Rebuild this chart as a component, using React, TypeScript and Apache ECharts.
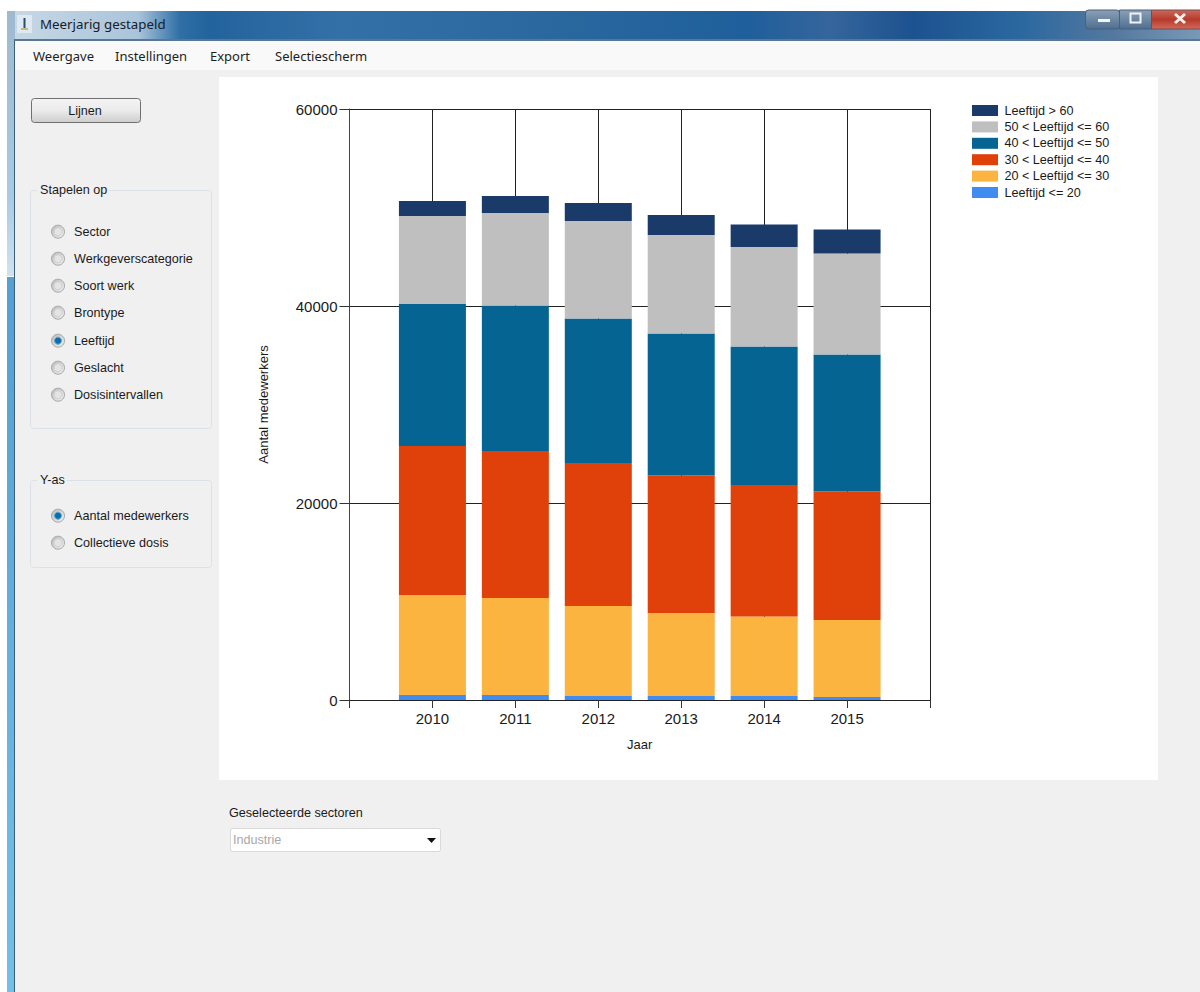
import React, { useEffect, useRef } from "react";
import * as echarts from "echarts";

const years = ["", "2010", "2011", "2012", "2013", "2014", "2015", ""];
const ageTo20 = [null, 500, 500, 400, 400, 400, 300, null];
const age20to30 = [null, 10160, 9850, 9140, 8430, 8080, 7820, null];
const age30to40 = [null, 15130, 14930, 14520, 13960, 13350, 13050, null];
const age40to50 = [null, 14410, 14770, 14670, 14420, 14060, 13910, null];
const age50to60 = [null, 8940, 9390, 9900, 10000, 10100, 10250, null];
const ageOver60 = [null, 1520, 1730, 1830, 2030, 2280, 2440, null];

const seriesNames = [
  "Leeftijd <= 20",
  "20 < Leeftijd <= 30",
  "30 < Leeftijd <= 40",
  "40 < Leeftijd <= 50",
  "50 < Leeftijd <= 60",
  "Leeftijd > 60",
];
const seriesColors = ["#418CF0", "#FCB441", "#E0400A", "#056492", "#BFBFBF", "#1A3B69"];
const seriesValues = [ageTo20, age20to30, age30to40, age40to50, age50to60, ageOver60];

const menuItems: [string, number][] = [["Weergave", 33], ["Instellingen", 115], ["Export", 210], ["Selectiescherm", 275]];
const stackOptions: [string, number, boolean][] = [
  ["Sector", 231.7, false],
  ["Werkgeverscategorie", 258.7, false],
  ["Soort werk", 285.7, false],
  ["Brontype", 312.7, false],
  ["Leeftijd", 340.7, true],
  ["Geslacht", 367.7, false],
  ["Dosisintervallen", 394.7, false],
];
const yOptions: [string, number, boolean][] = [
  ["Aantal medewerkers", 515.7, true],
  ["Collectieve dosis", 542.7, false],
];

const UI_FONT = '12.6px "Liberation Sans", Arial, sans-serif';
const MENU_FONT = '13px "Noto Sans", sans-serif';

const grad = (x2: number, y2: number, stops: [number, string][]) =>
  new echarts.graphic.LinearGradient(0, 0, x2, y2, stops.map(([offset, color]) => ({ offset, color })));

const rect = (x: number, y: number, w: number, h: number, fill: any, extra: any = {}, r = 0) => ({
  type: "rect",
  silent: true,
  z: -10,
  shape: { x, y, width: w, height: h, r },
  style: { fill, ...extra },
});
const label = (text: string, x: number, y: number, font = UI_FONT, fill = "#1a1a1a", textAlign = "left") => ({
  type: "text",
  silent: true,
  z: -5,
  x,
  y,
  style: { text, font, fill, textAlign, textVerticalAlign: "middle", verticalAlign: "middle" },
});
const line = (x1: number, y1: number, x2: number, y2: number, stroke: string, lineWidth = 1) => ({
  type: "line",
  silent: true,
  z: -5,
  shape: { x1, y1, x2, y2 },
  style: { stroke, lineWidth },
});
const radio = (text: string, y: number, on: boolean) => [
  {
    type: "circle",
    silent: true,
    z: -6,
    shape: { cx: 58, cy: y, r: 6.5 },
    style: {
      fill: grad(1, 1, [[0, "#b8b8b8"], [1, "#f4f4f4"]]),
      stroke: "#a6a6a6",
      lineWidth: 1,
    },
  },
  {
    type: "circle",
    silent: true,
    z: -5,
    shape: { cx: 58, cy: y, r: on ? 3.5 : 4 },
    style: { fill: on ? "#0b6ea8" : "#e4e4e4", stroke: on ? "#4fa8d8" : "#d0d0d0", lineWidth: 1 },
  },
  label(text, 74, y),
];
const groupBox = (x: number, y: number, w: number, h: number, title: string, tw: number) => [
  rect(x + 0.5, y + 0.5, w, h, "rgba(0,0,0,0)", { stroke: "#dce1e7", lineWidth: 1 }, 3),
  { ...rect(x + 7, y - 3, tw, 7, "#F0F0F0"), z: -9 },
  label(title, x + 10, y),
];

const chrome: any[] = [
  rect(15, 41, 1185, 951, "#F0F0F0"),
  rect(7, 11, 1193, 29, grad(1, 0, [
    [0, "#c9d9e6"],
    [0.11, "#a9c4da"],
    [0.145, "#2f6fa6"],
    [0.17, "#23639d"],
    [0.28, "#3470a8"],
    [0.45, "#2a689f"],
    [0.62, "#1f5f9b"],
    [0.69, "#35659b"],
    [0.76, "#1c5290"],
    [0.85, "#2b68a0"],
    [0.93, "#55799f"],
    [1, "#7a99b8"],
  ])),
  rect(7, 11, 8, 265, grad(0, 1, [[0, "#9fb9cf"], [0.7, "#a7cbe6"], [1, "#cfe2f0"]])),
  rect(7, 277, 8, 715, grad(0, 1, [[0, "#549fd4"], [1, "#74bfe9"]])),
  rect(14, 40, 1, 952, "#3c5f78"),
  rect(14, 39, 1186, 2, "#5a7690"),
  rect(15, 41, 1185, 29, "#F9F9F9"),
  rect(219, 77, 939, 703, "#FFFFFF"),

  rect(17, 15, 15, 18, "#dfe9f2"),
  line(24.5, 18, 24.5, 28, "#28506f", 2),
  line(21, 29, 28, 29, "#c8b87a", 2),
  label("Meerjarig gestapeld", 40, 24, '13.3px "Noto Sans", sans-serif', "#15202b"),

  rect(1085.5, 10, 34, 19, grad(0, 1, [[0, "#8aa0b6"], [1, "#4f6f90"]]), { stroke: "#49617a" }, 3),
  rect(1119.5, 10, 32, 19, grad(0, 1, [[0, "#8aa0b6"], [1, "#4f6f90"]]), { stroke: "#49617a" }),
  rect(1151.5, 10, 49, 19, grad(0, 1, [[0, "#c86a5e"], [0.5, "#b83a2b"], [1, "#cf6a5c"]]), { stroke: "#7a4a4a" }),
  rect(1098, 19, 12, 3, "#f4f6f8"),
  rect(1130.5, 13.5, 10, 9, "none", { stroke: "#f0f3f6", lineWidth: 2 }),
  line(1175, 14, 1185, 23, "#f6f1ef", 3),
  line(1185, 14, 1175, 23, "#f6f1ef", 3),

  ...menuItems.map(([t, x]) => label(t, x, 56, MENU_FONT, "#1e1e1e")),

  rect(31.5, 98.5, 109, 24, grad(0, 1, [[0, "#f4f4f4"], [0.5, "#ebebeb"], [1, "#cdcdcd"]]), { stroke: "#707070" }, 3),
  label("Lijnen", 85, 111, UI_FONT, "#1a1a1a", "center"),

  ...groupBox(30, 190, 181, 238, "Stapelen op", 72),
  ...stackOptions.flatMap(([t, y, on]) => radio(t, y, on)),
  ...groupBox(30, 480, 181, 87, "Y-as", 30),
  ...yOptions.flatMap(([t, y, on]) => radio(t, y, on)),

  label("Geselecteerde sectoren", 229, 813),
  rect(230.5, 828.5, 210, 23, "#FFFFFF", { stroke: "#d9d9d9" }, 2),
  label("Industrie", 233, 840, UI_FONT, "#a8a8a8"),
  {
    type: "polygon",
    silent: true,
    z: -5,
    shape: { points: [[427, 838], [436, 838], [431.5, 843]] },
    style: { fill: "#111" },
  },
];

export default function App() {
  const ref = useRef<HTMLDivElement>(null);
  useEffect(() => {
    document.body.style.margin = "0";
    const chart = echarts.init(ref.current!, undefined, { renderer: "svg" });
    chart.setOption({
      animation: false,
      backgroundColor: "#FFFFFF",
      textStyle: { fontFamily: '"Liberation Sans", Arial, sans-serif' },
      graphic: chrome,
      grid: { left: 349.5, top: 109, width: 580.5, height: 591, containLabel: false },
      legend: {
        orient: "vertical",
        left: 967,
        top: 99,
        itemWidth: 26,
        itemHeight: 11,
        itemGap: 3.4,
        icon: "rect",
        selectedMode: false,
        data: [...seriesNames].reverse(),
        textStyle: { fontSize: 12.6, lineHeight: 12, color: "#1a1a1a", padding: [0, 0, 0, 1.5] },
      },
      xAxis: {
        type: "category",
        data: years,
        boundaryGap: false,
        name: "Jaar",
        nameLocation: "middle",
        nameGap: 38,
        nameTextStyle: { fontSize: 13, color: "#1a1a1a" },
        axisLine: { lineStyle: { color: "#222", width: 1 } },
        axisTick: { length: 8, lineStyle: { color: "#333" }, alignWithLabel: true, interval: 0 },
        axisLabel: { interval: 0, fontSize: 15, color: "#1a1a1a", margin: 11 },
        splitLine: { show: true, interval: 0, lineStyle: { color: "#222", width: 1 } },
      },
      yAxis: {
        type: "value",
        min: 0,
        max: 60000,
        interval: 20000,
        name: "Aantal medewerkers",
        nameLocation: "middle",
        nameRotate: 90,
        nameGap: 80,
        nameTextStyle: { fontSize: 13, color: "#1a1a1a" },
        axisLine: { show: true, lineStyle: { color: "#444", width: 1 } },
        axisTick: { show: true, length: 10, lineStyle: { color: "#333" } },
        axisLabel: { fontSize: 15, color: "#1a1a1a", margin: 12, formatter: (v: number) => String(v) },
        splitLine: { show: true, lineStyle: { color: "#222", width: 1 } },
      },
      series: seriesNames.map((name, i) => ({
        name,
        type: "bar",
        stack: "totaal",
        barWidth: 67,
        itemStyle: { color: seriesColors[i] },
        emphasis: { disabled: true },
        data: seriesValues[i],
      })),
    });
    return () => chart.dispose();
  }, []);
  return (
    <div
      ref={ref}
      style={{ position: "absolute", left: 0, top: 0, width: 1200, height: 992, overflow: "hidden" }}
    />
  );
}
